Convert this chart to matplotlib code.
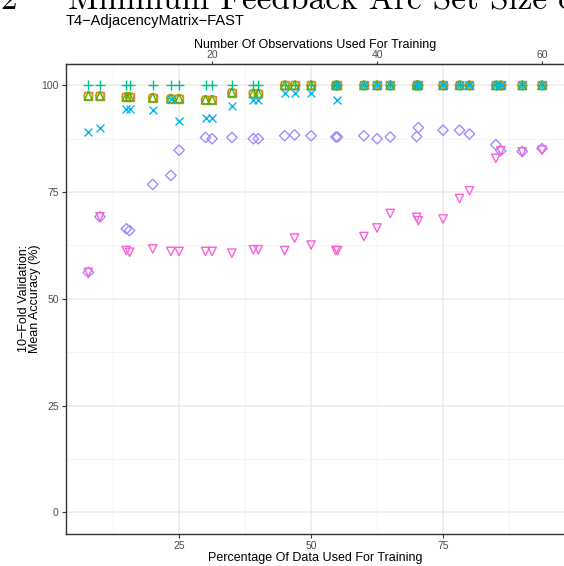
import matplotlib
matplotlib.use("Agg")
import matplotlib.pyplot as plt
from matplotlib.ticker import MultipleLocator

# percentage of the data used for training (64 observations in total)
n_obs = 64
pct = [7.8125, 10, 15, 15.625, 20, 23.4375, 25, 30, 31.25, 35,
       39.0625, 40, 45, 46.875, 50, 54.6875, 55, 60, 62.5, 65,
       70, 70.3125, 75, 78.125, 80, 85, 85.9375, 90, 93.75]

# mean accuracy (%) per classifier
acc_a = [97.5, 97.5, 97.3, 97.3, 97.1, 96.9, 96.9, 96.6, 96.6, 98.3,
         98.1, 98.1] + [100] * 17
acc_b = list(acc_a)
acc_c = list(acc_a)
acc_d = [100] * 29
acc_e = [89.1, 90.1, 94.5, 94.5, 94.2, 96.9, 91.7, 92.4, 92.4, 95.2,
         96.6, 96.6, 98.1, 98.1, 98.3, 100, 96.6] + [100] * 12
acc_f = [56.2, 69.2, 66.4, 66.0, 76.8, 78.9, 84.8, 87.8, 87.5, 87.8,
         87.5, 87.5, 88.2, 88.4, 88.2, 87.9, 87.9, 88.2, 87.5, 87.9,
         88.0, 90.1, 89.5, 89.5, 88.6, 86.1, 84.7, 84.5, 85.2]
acc_g = [56.2, 69.2, 61.3, 60.9, 61.7, 61.1, 61.1, 61.1, 61.1, 60.7,
         61.5, 61.5, 61.3, 64.2, 62.6, 61.3, 61.3, 64.6, 66.6, 70.0,
         69.1, 68.3, 68.7, 73.5, 75.3, 82.9, 84.7, 84.4, 84.8]

series = [acc_a, acc_b, acc_c, acc_d, acc_e, acc_f, acc_g]
colors = ["#F8766D", "#C49A00", "#53B400", "#00C094", "#00B6EB", "#A58AFF", "#FB61D7"]
markers = ["s", "o", "^", "+", "x", "D", "v"]
sizes = [32, 36, 36, 44, 32, 28, 36]

sans = "Liberation Sans"
grey = "#4D4D4D"

fig = plt.figure(figsize=(5.64, 5.66), dpi=100)
ax = fig.add_axes([65.7 / 564, 1 - 533.7 / 566, (564.7 - 65.7) / 564, (533.7 - 64) / 566])

for vals, c, m, s in zip(series, colors, markers, sizes):
    if m in ("+", "x"):
        ax.scatter(pct, vals, marker=m, s=s, color=c, linewidths=1.0, zorder=3)
    else:
        ax.scatter(pct, vals, marker=m, s=s, facecolors="none", edgecolors=c,
                   linewidths=1.0, zorder=3)

lo, hi = min(pct), max(pct)
pad = (hi - lo) * 0.05
ax.set_xlim(lo - pad, hi + pad)
ax.set_ylim(-5, 105)

ax.xaxis.set_major_locator(MultipleLocator(25))
ax.xaxis.set_minor_locator(MultipleLocator(12.5))
ax.yaxis.set_major_locator(MultipleLocator(25))
ax.yaxis.set_minor_locator(MultipleLocator(12.5))
ax.set_xticks([25, 50, 75])
ax.grid(True, which="major", color="#EBEBEB", linewidth=1.1, zorder=0)
ax.grid(True, which="minor", color="#F2F2F2", linewidth=0.6, zorder=0)
ax.set_axisbelow(True)
ax.tick_params(which="minor", length=0)
ax.tick_params(which="major", length=3, width=0.8, color="#333333",
               labelsize=7.5, labelcolor=grey, pad=2)
for lab in ax.get_xticklabels() + ax.get_yticklabels():
    lab.set_fontfamily(sans)
for sp in ax.spines.values():
    sp.set_color("#333333")
    sp.set_linewidth(1.0)

ax.set_xlabel("Percentage Of Data Used For Training", fontsize=9, family=sans, labelpad=1)
ax.set_ylabel("10\u2212Fold Validation:\nMean Accuracy (%)", fontsize=9, family=sans,
              labelpad=0, linespacing=0.95)

top = ax.secondary_xaxis("top", functions=(lambda p: p * n_obs / 100,
                                            lambda o: o * 100 / n_obs))
top.set_xticks([20, 40, 60])
top.tick_params(length=2.5, width=0.8, color="#333333", labelsize=7.5,
                labelcolor=grey, pad=0.5)
for lab in top.get_xticklabels():
    lab.set_fontfamily(sans)
top.spines["top"].set_color("#333333")
top.set_xlabel("Number Of Observations Used For Training", fontsize=9,
               family=sans, labelpad=1.5)

fig.text(66 / 564, 1 - 21 / 566, "T4\u2212AdjacencyMatrix\u2212FAST", fontsize=10.5,
         family=sans, va="center", ha="left")
fig.text(0 / 564, 1 - 9 / 566, "2", fontsize=24, family="cmr10",
         va="baseline", ha="left")
fig.text(68 / 564, 1 - 9 / 566, "Minimum Feedback Arc Set Size of", fontsize=24,
         family="cmr10", va="baseline", ha="left")

fig.savefig("out.png", dpi=100)
